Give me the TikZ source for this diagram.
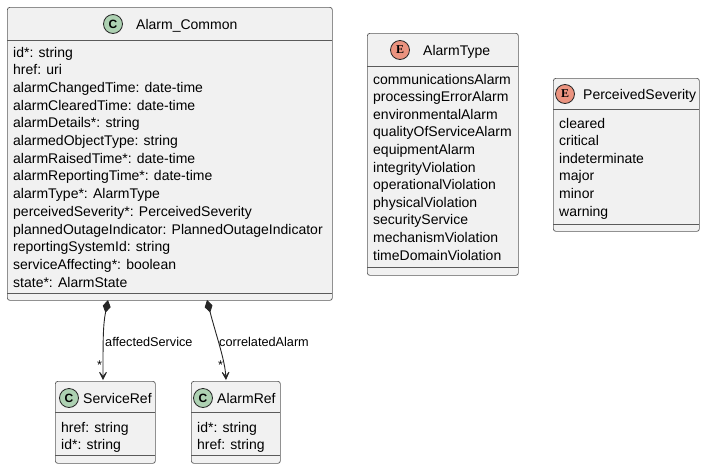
\documentclass[tikz,border=0pt]{standalone}
\usepackage{fontspec}
\setmainfont{Liberation Sans}
\newfontfamily\markserif{Liberation Serif}
\usetikzlibrary{arrows.meta}
\definecolor{boxfill}{HTML}{F1F1F1}
\definecolor{boxline}{HTML}{5A5A5A}
\definecolor{classmark}{HTML}{ADD1B2}
\definecolor{enummark}{HTML}{EB937F}
\tikzset{
  classbox/.style={draw=boxline,fill=boxfill,line width=0.7pt,rounded corners=2.5pt,anchor=north west,inner sep=0pt},
  sepline/.style={draw=boxline,line width=0.7pt},
  member/.style={anchor=base west,inner sep=0pt,font=\fontsize{14}{16}\selectfont},
  title/.style={anchor=base west,inner sep=0pt,font=\fontsize{14}{16}\selectfont},
  classmarker/.style={circle,draw=black!85,fill=classmark,line width=0.8pt,minimum size=19pt,inner sep=0pt,font=\fontsize{12}{12}\selectfont\bfseries},
  enummarker/.style={circle,draw=black!85,fill=enummark,line width=0.8pt,minimum size=19pt,inner sep=0pt,font=\fontsize{12}{12}\markserif\bfseries},
  rolelabel/.style={anchor=base west,inner sep=0pt,font=\fontsize{12.7}{14}\selectfont},
  composition/.style={draw=black!85,line width=0.9pt,{Diamond[fill=black!85,length=13pt,width=8pt]}-{Stealth[length=12pt,width=12pt,inset=8pt]}}
}
\begin{document}
\begin{tikzpicture}[x=1pt,y=-1pt]
  \useasboundingbox (0,0) rectangle (705,469);

  % Alarm_Common
  \node[classbox,minimum width=325pt,minimum height=293pt] (common) at (7,7) {};
  \draw[sepline] (7,40) -- (332,40) (7,293) -- (332,293);
  \node[classmarker] (common-mark) at (113,24) {C};
  \node[title] (common-title) at (136,29) {Alarm\_Common};
  \foreach \txt [count=\i from 0] in {id*: string,href: uri,alarmChangedTime: date-time,
      alarmClearedTime: date-time,alarmDetails*: string,alarmedObjectType: string,
      alarmRaisedTime*: date-time,alarmReportingTime*: date-time,alarmType*: AlarmType,
      perceivedSeverity*: PerceivedSeverity,plannedOutageIndicator: PlannedOutageIndicator,
      reportingSystemId: string,serviceAffecting*: boolean,state*: AlarmState}
    \node[member] (common-\i) at (13,57+17.7*\i) {\txt};

  % AlarmType
  \node[classbox,minimum width=151pt,minimum height=242pt] (alarmtype) at (367,33) {};
  \draw[sepline] (367,66) -- (518,66) (367,267) -- (518,267);
  \node[enummarker] (alarmtype-mark) at (400,50) {E};
  \node[title] (alarmtype-title) at (423,55) {AlarmType};
  \foreach \txt [count=\i from 0] in {communicationsAlarm,processingErrorAlarm,environmentalAlarm,
      qualityOfServiceAlarm,equipmentAlarm,integrityViolation,operationalViolation,
      physicalViolation,securityService,mechanismViolation,timeDomainViolation}
    \node[member] (alarmtype-\i) at (373,84+17.6*\i) {\txt};

  % PerceivedSeverity
  \node[classbox,minimum width=146pt,minimum height=153pt] (severity) at (553,78) {};
  \draw[sepline] (553,109) -- (699,109) (553,224) -- (699,224);
  \node[enummarker] (severity-mark) at (565,94) {E};
  \node[title] (severity-title) at (583,99) {PerceivedSeverity};
  \foreach \txt [count=\i from 0] in {cleared,critical,indeterminate,major,minor,warning}
    \node[member] (severity-\i) at (559,128+17.6*\i) {\txt};

  % ServiceRef
  \node[classbox,minimum width=100pt,minimum height=82pt] (serviceref) at (55,381) {};
  \draw[sepline] (55,412) -- (155,412) (55,455) -- (155,455);
  \node[classmarker] (serviceref-mark) at (69,398) {C};
  \node[title] (serviceref-title) at (83,403) {ServiceRef};
  \node[member] (serviceref-0) at (61,432) {href: string};
  \node[member] (serviceref-1) at (61,449) {id*: string};

  % AlarmRef
  \node[classbox,minimum width=89pt,minimum height=82pt] (alarmref) at (191,381) {};
  \draw[sepline] (191,412) -- (280,412) (191,455) -- (280,455);
  \node[classmarker] (alarmref-mark) at (203,398) {C};
  \node[title] (alarmref-title) at (217,403) {AlarmRef};
  \node[member] (alarmref-0) at (197,432) {id*: string};
  \node[member] (alarmref-1) at (197,449) {href: string};

  % compositions
  \coordinate (svc-src) at (108,300);
  \coordinate (svc-dst) at (103,380);
  \coordinate (corr-src) at (207,300);
  \coordinate (corr-dst) at (226,380);
  \draw[composition] (svc-src) .. controls (103,325) and (103,340) .. (svc-dst);
  \draw[composition] (corr-src) .. controls (216,335) and (225,360) .. (corr-dst);
  \node[rolelabel] (svc-role) at (105,346) {affectedService};
  \node[rolelabel] (svc-mult) at (97,369) {*};
  \node[rolelabel] (corr-role) at (219,346) {correlatedAlarm};
  \node[rolelabel] (corr-mult) at (218,369) {*};
\end{tikzpicture}
\end{document}
